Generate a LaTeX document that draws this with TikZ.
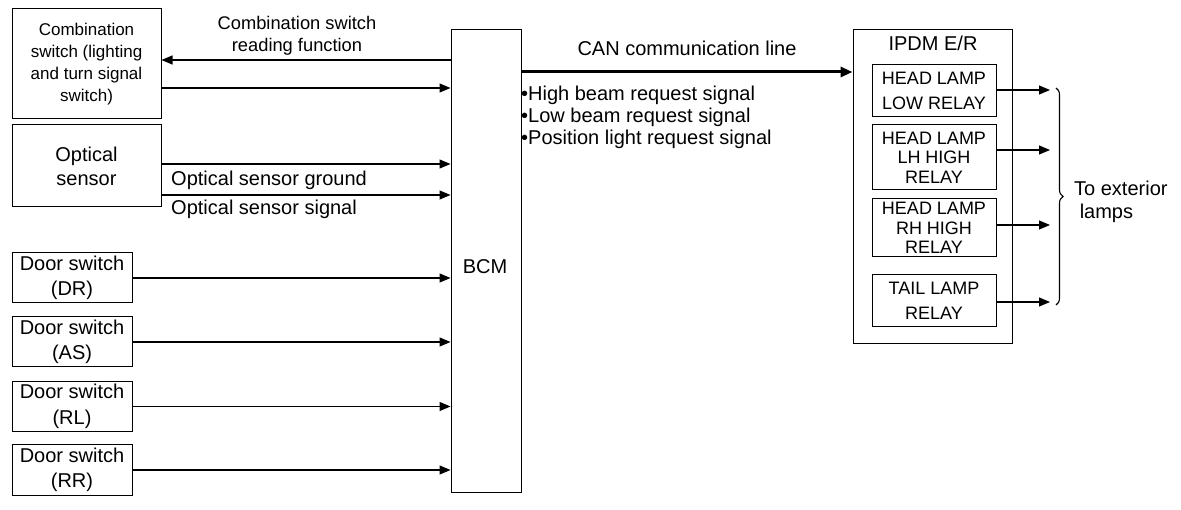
\documentclass[tikz,border=0pt]{standalone}
\usepackage{fontspec}
\setmainfont{Liberation Sans}
\usetikzlibrary{arrows.meta,decorations.pathreplacing}
\tikzset{
  box/.style={draw, line width=1pt, inner sep=0pt, align=center},
  fbig/.style={font=\fontsize{20}{22.5}\selectfont},
  fdoor/.style={font=\fontsize{20}{25.5}\selectfont},
  fopt/.style={font=\fontsize{20}{24}\selectfont},
  fmid/.style={font=\fontsize{18.3}{22}\selectfont},
  fsmall/.style={font=\fontsize{17}{22}\selectfont},
  frelay/.style={font=\fontsize{18}{25}\selectfont},
  frelayt/.style={font=\fontsize{18}{19.5}\selectfont},
  arr/.style={line width=1.1pt, -{Triangle[length=11pt,width=9pt]}},
  can/.style={line width=3pt, -{Triangle[length=12pt,width=10pt]}},
  lbl/.style={inner sep=0pt, align=center}
}
\begin{document}
\begin{tikzpicture}[x=1pt,y=-1pt]
\useasboundingbox (0,0) rectangle (1181,510);
% left boxes
\node[box,fsmall,minimum width=149,minimum height=110] (comb) at (86.5,64) {Combination\\switch (lighting\\and turn signal\\switch)};
\node[box,fopt,minimum width=149,minimum height=82] (opt) at (86.5,166) {Optical\\sensor};
\node[box,fdoor,minimum width=120,minimum height=50] (dr) at (72,278) {Door switch\\(DR)};
\node[box,fdoor,minimum width=120,minimum height=50] (as) at (72,342) {Door switch\\(AS)};
\node[box,fdoor,minimum width=120,minimum height=50] (rl) at (72,406.5) {Door switch\\(RL)};
\node[box,fdoor,minimum width=120,minimum height=50] (rr) at (72,470) {Door switch\\(RR)};
% BCM
\node[box,minimum width=70,minimum height=462] (bcm) at (486,261) {};
\node[lbl,fbig] (bcml) at (485,267) {BCM};
% IPDM
\node[box,minimum width=159,minimum height=314] (ipdm) at (932.5,187) {};
\node[lbl,fbig] (ipdml) at (933,43) {IPDM E/R};
\node[box,frelay,minimum width=124,minimum height=52] (r1) at (934,91) {HEAD LAMP\\LOW RELAY};
\node[box,frelayt,minimum width=124,minimum height=65] (r2) at (934,157.5) {HEAD LAMP\\LH HIGH\\RELAY};
\node[box,frelayt,minimum width=124,minimum height=58] (r3) at (934,228) {HEAD LAMP\\RH HIGH\\RELAY};
\node[box,frelay,minimum width=124,minimum height=52] (r4) at (934,301) {TAIL LAMP\\RELAY};
% left connectors
\coordinate (y1) at (0,60);
\coordinate (y2) at (0,88);
\coordinate (y3) at (0,164);
\coordinate (y4) at (0,195);
\draw[arr] (bcm.west |- y1) -- (comb.east |- y1);
\draw[arr] (comb.east |- y2) -- (bcm.west |- y2);
\draw[arr] (opt.east |- y3) -- (bcm.west |- y3);
\draw[arr] (opt.east |- y4) -- (bcm.west |- y4);
\draw[arr] (dr.east) -- (bcm.west |- dr.east);
\draw[arr] (as.east) -- (bcm.west |- as.east);
\draw[arr] (rl.east) -- (bcm.west |- rl.east);
\draw[arr] (rr.east) -- (bcm.west |- rr.east);
\node[lbl,fmid] (readl) at (297,36) {Combination switch\\reading function};
\node[lbl,fbig,anchor=west] (gndl) at (171,180) {Optical sensor ground};
\node[lbl,fbig,anchor=west] (sigl) at (171,209) {Optical sensor signal};
% CAN line
\coordinate (ycan) at (0,72);
\draw[can] (bcm.east |- ycan) -- (ipdm.west |- ycan);
\node[lbl,fbig] (canl) at (687,48) {CAN communication line};
\node[lbl,fbig,anchor=west] (b1) at (521,95) {•High beam request signal};
\node[lbl,fbig,anchor=west] (b2) at (521,117) {•Low beam request signal};
\node[lbl,fbig,anchor=west] (b3) at (521,139) {•Position light request signal};
% outputs
\coordinate (t1) at (1050,90);
\coordinate (t2) at (1050,150);
\coordinate (t3) at (1050,225);
\coordinate (t4) at (1050,302);
\draw[arr] (r1.east |- t1) -- (t1);
\draw[arr] (r2.east |- t2) -- (t2);
\draw[arr] (r3.east |- t3) -- (t3);
\draw[arr] (r4.east |- t4) -- (t4);
\coordinate (bt) at (1056,88);
\coordinate (bb) at (1056,305);
\draw[line width=1.1pt, decorate, decoration={brace, amplitude=7pt}] (bt) -- (bb);
\node[lbl,fbig,anchor=west,align=left] (extl) at (1074,202) {To exterior\\\ lamps};
\end{tikzpicture}
\end{document}
